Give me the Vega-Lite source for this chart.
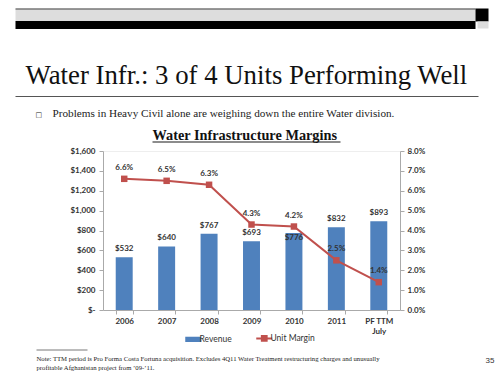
{
  "$schema": "https://vega.github.io/schema/vega-lite/v6.json",
  "width": 297,
  "height": 159,
  "autosize": {"type": "none"},
  "padding": {"left": 103, "top": 151, "right": 98, "bottom": 64},
  "background": "white",
  "config": {"view": {"stroke": "#eeeeee"}, "font": "Lato", "axis": {"grid": false}},
  "layer": [
    {
      "data": {"values": [
        {"period": "2006", "revenue": 532, "margin": 0.066},
        {"period": "2007", "revenue": 640, "margin": 0.065},
        {"period": "2008", "revenue": 767, "margin": 0.063},
        {"period": "2009", "revenue": 693, "margin": 0.043},
        {"period": "2010", "revenue": 776, "margin": 0.042},
        {"period": "2011", "revenue": 832, "margin": 0.025},
        {"period": "PF TTM July", "revenue": 893, "margin": 0.014}
      ]},
      "layer": [
        {
          "layer": [
            {
              "mark": {"type": "bar", "color": "#4F81BD"},
              "encoding": {
                "x": {"field": "period", "type": "ordinal", "sort": null,
                  "scale": {"paddingInner": 0.6, "paddingOuter": 0.3},
                  "axis": {
                    "title": ["Note: TTM period is Pro Forma Costa Fortuna acquisition. Excludes 4Q11 Water Treatment restructuring charges and unusually", "profitable Afghanistan project from ’09-’11."],
                    "titleX": -67, "titleY": 50.5, "titleAlign": "left", "titleBaseline": "alphabetic", "titleAngle": 0,
                    "titleFont": "Liberation Serif", "titleFontSize": 6.7, "titleFontWeight": "normal", "titleColor": "#222", "titleLineHeight": 9,
                    "labelAngle": 0, "labelFont": "Lato", "labelFontWeight": "bold", "labelFontSize": 8, "labelColor": "#333",
                    "labelPadding": 3, "tickBand": "extent", "tickSize": 4, "tickColor": "#aaa", "domainColor": "#aaa",
                    "labelExpr": "datum.value == 'PF TTM July' ? ['PF TTM', 'July'] : datum.value", "labelLineHeight": 10
                  }},
                "y": {"field": "revenue", "type": "quantitative",
                  "scale": {"domain": [0, 1600], "nice": false},
                  "axis": {"orient": "left", "title": null, "values": [0, 200, 400, 600, 800, 1000, 1200, 1400, 1600], "tickCount": 9, "labelOverlap": false,
                    "labelExpr": "datum.value == 0 ? '$-' : '$' + format(datum.value, ',')",
                    "domainColor": "#aaa", "tickColor": "#aaa", "tickSize": 4, "labelPadding": 4,
                    "labelFont": "Lato", "labelFontWeight": "bold", "labelFontSize": 8, "labelColor": "#333"}},
                "color": {"datum": "Revenue", "type": "nominal",
                  "scale": {"domain": ["Revenue", "Unit Margin"], "range": ["#4F81BD", "#C0504D"]},
                  "legend": {"orient": "none", "legendX": 86, "legendY": 183, "direction": "horizontal", "title": null,
                    "labelFont": "Lato", "labelFontSize": 8.5, "labelColor": "#333", "symbolSize": 256,
                    "columnPadding": 20, "labelOffset": 2, "padding": 0,
                    "encode": {"symbols": {"update": {
                      "shape": {"signal": "datum.value === 'Revenue' ? 'M-1,-0.33H1V0.33H-1Z' : 'M-1,0H1M-0.3,-0.3H0.3V0.3H-0.3Z'"},
                      "fill": {"scale": "color", "field": "value"},
                      "stroke": {"scale": "color", "field": "value"},
                      "strokeWidth": {"signal": "datum.value === 'Revenue' ? 0 : 2"},
                      "opacity": {"value": 1}
                    }}}}}
              }
            },
            {
              "transform": [{"filter": "datum.period != '2010'"}],
              "mark": {"type": "text", "dy": -8, "font": "Lato", "fontWeight": "bold", "fontSize": 8, "color": "#333"},
              "encoding": {
                "x": {"field": "period", "type": "ordinal", "sort": null},
                "y": {"field": "revenue", "type": "quantitative"},
                "text": {"field": "revenue", "type": "quantitative", "format": "$,.0f"}
              }
            },
            {
              "transform": [{"filter": "datum.period == '2010'"}],
              "mark": {"type": "text", "dy": 5, "font": "Lato", "fontWeight": "bold", "fontSize": 8, "color": "#333"},
              "encoding": {
                "x": {"field": "period", "type": "ordinal", "sort": null},
                "y": {"field": "revenue", "type": "quantitative"},
                "text": {"field": "revenue", "type": "quantitative", "format": "$,.0f"}
              }
            }
          ]
        },
        {
          "layer": [
            {
              "mark": {"type": "line", "strokeWidth": 2, "point": {"shape": "square", "size": 42, "filled": true, "opacity": 1}},
              "encoding": {
                "x": {"field": "period", "type": "ordinal", "sort": null},
                "y": {"field": "margin", "type": "quantitative",
                  "scale": {"domain": [0, 0.08], "nice": false},
                  "axis": {"orient": "right", "title": null, "values": [0, 0.01, 0.02, 0.03, 0.04, 0.05, 0.06, 0.07, 0.08], "tickCount": 9, "labelOverlap": false, "format": ".1%",
                    "domainColor": "#aaa", "tickColor": "#aaa", "tickSize": 4, "labelPadding": 3,
                    "labelFont": "Lato", "labelFontWeight": "bold", "labelFontSize": 8, "labelColor": "#333"}},
                "color": {"datum": "Unit Margin", "type": "nominal"}
              }
            },
            {
              "mark": {"type": "text", "dy": -11, "font": "Lato", "fontWeight": "bold", "fontSize": 8, "color": "#333"},
              "encoding": {
                "x": {"field": "period", "type": "ordinal", "sort": null},
                "y": {"field": "margin", "type": "quantitative"},
                "text": {"field": "margin", "type": "quantitative", "format": ".1%"}
              }
            }
          ]
        }
      ],
      "resolve": {"scale": {"y": "independent"}}
    },
    {
      "data": {"values": [{"v": 0}]},
      "mark": {"type": "point", "opacity": 0},
      "encoding": {"x": {"field": "v", "type": "quantitative", "scale": {"domain": [0, 1], "range": [-88, 372], "nice": false, "zero": false},
        "axis": {"orient": "top", "offset": 136.5, "domainColor": "#DDDDDD", "domainWidth": 13, "domainCap": "butt", "ticks": false, "labels": false, "grid": false,
          "title": "□", "titleX": -68, "titleY": 101.5, "titleAlign": "left", "titleBaseline": "alphabetic", "titleFont": "DejaVu Sans", "titleFontSize": 7, "titleFontWeight": "normal", "titleColor": "#222"}}}
    },
    {
      "data": {"values": [{"v": 0}]},
      "mark": {"type": "point", "opacity": 0},
      "encoding": {"x": {"field": "v", "type": "quantitative", "scale": {"domain": [0, 1], "range": [-88, 372], "nice": false, "zero": false},
        "axis": {"orient": "top", "offset": 142.5, "domainColor": "#444444", "domainWidth": 1, "domainCap": "butt", "ticks": false, "labels": false, "grid": false, "title": null}}}
    },
    {
      "data": {"values": [{"v": 0}]},
      "mark": {"type": "point", "opacity": 0},
      "encoding": {"x": {"field": "v", "type": "quantitative", "scale": {"domain": [0, 1], "range": [-88, 372], "nice": false, "zero": false},
        "axis": {"orient": "top", "offset": 126.5, "domainColor": "#000000", "domainWidth": 8, "domainCap": "butt", "ticks": false, "labels": false, "grid": false,
          "title": "Problems in Heavy Civil alone are weighing down the entire Water division.", "titleX": -51, "titleY": 92, "titleAlign": "left", "titleBaseline": "alphabetic",
          "titleFont": "Liberation Serif", "titleFontSize": 11.2, "titleFontWeight": "normal", "titleColor": "#222"}}}
    },
    {
      "data": {"values": [{"v": 0}]},
      "mark": {"type": "point", "opacity": 0},
      "encoding": {"x": {"field": "v", "type": "quantitative", "scale": {"domain": [0, 1], "range": [372, 385], "nice": false, "zero": false},
        "axis": {"orient": "top", "offset": 136.5, "domainColor": "#000000", "domainWidth": 13, "domainCap": "butt", "ticks": false, "labels": false, "grid": false, "title": null}}}
    },
    {
      "data": {"values": [{"v": 0}]},
      "mark": {"type": "point", "opacity": 0},
      "encoding": {"x": {"field": "v", "type": "quantitative", "scale": {"domain": [0, 1], "range": [374, 385], "nice": false, "zero": false},
        "axis": {"orient": "top", "offset": 126.5, "domainColor": "#DDDDDD", "domainWidth": 7, "domainCap": "butt", "ticks": false, "labels": false, "grid": false, "title": null}}}
    },
    {
      "data": {"values": [{"v": 0}]},
      "mark": {"type": "point", "opacity": 0},
      "encoding": {"x": {"field": "v", "type": "quantitative", "scale": {"domain": [0, 1], "range": [-88, 375], "nice": false, "zero": false},
        "axis": {"orient": "top", "offset": 55, "domainColor": "#555555", "domainWidth": 1, "domainCap": "butt", "ticks": false, "labels": false, "grid": false,
          "title": "Water Infr.: 3 of 4 Units Performing Well", "titleX": -78, "titleY": -12.5, "titleAlign": "left", "titleBaseline": "alphabetic",
          "titleFont": "Liberation Serif", "titleFontSize": 26.8, "titleFontWeight": "normal", "titleColor": "#111"}}}
    },
    {
      "data": {"values": [{"v": 0}]},
      "mark": {"type": "point", "opacity": 0},
      "encoding": {"x": {"field": "v", "type": "quantitative", "scale": {"domain": [0, 1], "range": [49, 237], "nice": false, "zero": false},
        "axis": {"orient": "top", "offset": 9.5, "domainColor": "#666666", "domainWidth": 1.5, "domainCap": "butt", "ticks": false, "labels": false, "grid": false,
          "title": "Water Infrastructure Margins", "titleX": 49, "titleY": -2.5, "titleAlign": "left", "titleBaseline": "alphabetic",
          "titleFont": "Liberation Serif", "titleFontSize": 14.3, "titleFontWeight": "bold", "titleColor": "#111"}}}
    },
    {
      "data": {"values": [{"v": 0}]},
      "mark": {"type": "point", "opacity": 0},
      "encoding": {"x": {"field": "v", "type": "quantitative", "scale": {"domain": [0, 1], "range": [-67, -16], "nice": false, "zero": false},
        "axis": {"orient": "bottom", "offset": 39.5, "domainColor": "#555555", "domainWidth": 0.8, "domainCap": "butt", "ticks": false, "labels": false, "grid": false,
          "title": "35", "titleX": 382, "titleY": 13, "titleAlign": "left", "titleBaseline": "alphabetic",
          "titleFont": "Liberation Sans", "titleFontSize": 8, "titleFontWeight": "normal", "titleColor": "#333"}}}
    }
  ],
  "resolve": {"scale": {"x": "independent"}, "axis": {"x": "independent"}}
}
